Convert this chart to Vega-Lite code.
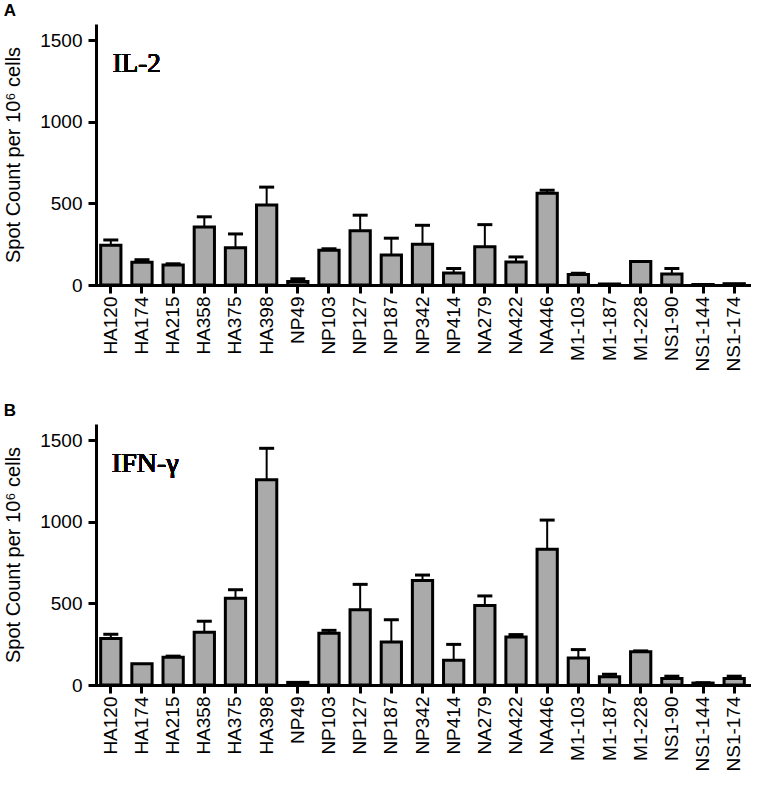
{
  "$schema": "https://vega.github.io/schema/vega-lite/v6.json",
  "padding": {"top": 2, "left": 3, "right": 3, "bottom": 0},
  "background": "white",
  "datasets": {
    "il2": [
      {"peptide": "HA120", "value": 244, "upper": 276},
      {"peptide": "HA174", "value": 139, "upper": 155},
      {"peptide": "HA215", "value": 123, "upper": 130},
      {"peptide": "HA358", "value": 356, "upper": 418},
      {"peptide": "HA375", "value": 228, "upper": 313},
      {"peptide": "HA398", "value": 491, "upper": 600},
      {"peptide": "NP49", "value": 22, "upper": 38},
      {"peptide": "NP103", "value": 213, "upper": 222},
      {"peptide": "NP127", "value": 332, "upper": 428},
      {"peptide": "NP187", "value": 184, "upper": 287},
      {"peptide": "NP342", "value": 250, "upper": 366},
      {"peptide": "NP414", "value": 74, "upper": 101},
      {"peptide": "NA279", "value": 235, "upper": 370},
      {"peptide": "NA422", "value": 141, "upper": 172},
      {"peptide": "NA446", "value": 562, "upper": 581},
      {"peptide": "M1-103", "value": 64, "upper": 72},
      {"peptide": "M1-187", "value": 6, "upper": 6},
      {"peptide": "M1-228", "value": 144, "upper": 144},
      {"peptide": "NS1-90", "value": 68, "upper": 101},
      {"peptide": "NS1-144", "value": 3, "upper": 3},
      {"peptide": "NS1-174", "value": 8, "upper": 8}
    ],
    "ifng": [
      {"peptide": "HA120", "value": 285, "upper": 311},
      {"peptide": "HA174", "value": 131, "upper": 131},
      {"peptide": "HA215", "value": 170, "upper": 177},
      {"peptide": "HA358", "value": 323, "upper": 391},
      {"peptide": "HA375", "value": 532, "upper": 584},
      {"peptide": "HA398", "value": 1259, "upper": 1451},
      {"peptide": "NP49", "value": 16, "upper": 16},
      {"peptide": "NP103", "value": 317, "upper": 335},
      {"peptide": "NP127", "value": 461, "upper": 617},
      {"peptide": "NP187", "value": 264, "upper": 400},
      {"peptide": "NP342", "value": 641, "upper": 674},
      {"peptide": "NP414", "value": 151, "upper": 249},
      {"peptide": "NA279", "value": 488, "upper": 546},
      {"peptide": "NA422", "value": 294, "upper": 309},
      {"peptide": "NA446", "value": 832, "upper": 1011},
      {"peptide": "M1-103", "value": 166, "upper": 217},
      {"peptide": "M1-187", "value": 51, "upper": 66},
      {"peptide": "M1-228", "value": 204, "upper": 209},
      {"peptide": "NS1-90", "value": 40, "upper": 54},
      {"peptide": "NS1-144", "value": 12, "upper": 14},
      {"peptide": "NS1-174", "value": 40, "upper": 54}
    ]
  },
  "vconcat": [
    {
      "title": {"text": "A"},
      "data": {"name": "il2"},
      "width": 653,
      "height": 261,
      "layer": [
        {
          "mark": {"type": "bar", "fill": "#aaaaaa", "stroke": "black", "strokeWidth": 3},
          "encoding": {
            "x": {"field": "peptide", "type": "nominal", "sort": null, "title": null,
                  "scale": {"paddingInner": 0.35, "paddingOuter": 0.15}},
            "y": {"field": "value", "type": "quantitative", "title": "Spot Count per 10⁶ cells",
                  "scale": {"domain": [0, 1500]}, "axis": {"values": [0, 500, 1000, 1500], "format": "d"}}
          }
        },
        {
          "transform": [{"filter": "datum.upper > datum.value"}],
          "mark": {"type": "rule", "color": "black", "strokeWidth": 2},
          "encoding": {
            "x": {"field": "peptide", "type": "nominal", "sort": null},
            "y": {"field": "value", "type": "quantitative"},
            "y2": {"field": "upper"}
          }
        },
        {
          "transform": [{"filter": "datum.upper > datum.value"}],
          "mark": {"type": "tick", "color": "black", "size": 15, "thickness": 3, "opacity": 1},
          "encoding": {
            "x": {"field": "peptide", "type": "nominal", "sort": null},
            "y": {"field": "upper", "type": "quantitative"}
          }
        },
        {
          "mark": {"type": "text", "text": "IL-2", "font": "Liberation Serif", "fontSize": 27,
                   "fontWeight": "normal", "align": "left", "baseline": "alphabetic", "dx": 2, "color": "black"},
          "encoding": {
            "x": {"datum": "HA120"},
            "y": {"datum": 1305}
          }
        }
      ]
    },
    {
      "title": {"text": "B"},
      "data": {"name": "ifng"},
      "width": 653,
      "height": 261,
      "layer": [
        {
          "mark": {"type": "bar", "fill": "#aaaaaa", "stroke": "black", "strokeWidth": 3},
          "encoding": {
            "x": {"field": "peptide", "type": "nominal", "sort": null, "title": null,
                  "scale": {"paddingInner": 0.35, "paddingOuter": 0.15}},
            "y": {"field": "value", "type": "quantitative", "title": "Spot Count per 10⁶ cells",
                  "scale": {"domain": [0, 1500]}, "axis": {"values": [0, 500, 1000, 1500], "format": "d"}}
          }
        },
        {
          "transform": [{"filter": "datum.upper > datum.value"}],
          "mark": {"type": "rule", "color": "black", "strokeWidth": 2},
          "encoding": {
            "x": {"field": "peptide", "type": "nominal", "sort": null},
            "y": {"field": "value", "type": "quantitative"},
            "y2": {"field": "upper"}
          }
        },
        {
          "transform": [{"filter": "datum.upper > datum.value"}],
          "mark": {"type": "tick", "color": "black", "size": 15, "thickness": 3, "opacity": 1},
          "encoding": {
            "x": {"field": "peptide", "type": "nominal", "sort": null},
            "y": {"field": "upper", "type": "quantitative"}
          }
        },
        {
          "mark": {"type": "text", "text": "IFN-γ", "font": "Liberation Serif", "fontSize": 28,
                   "fontWeight": "normal", "align": "left", "baseline": "alphabetic", "dx": 1, "color": "black"},
          "encoding": {
            "x": {"datum": "HA120"},
            "y": {"datum": 1305}
          }
        }
      ]
    }
  ],
  "spacing": 31,
  "config": {
    "font": "Liberation Sans",
    "view": {"stroke": null},
    "title": {"anchor": "start", "frame": "bounds", "fontSize": 17, "fontWeight": "bold",
              "font": "Liberation Sans", "color": "black", "offset": 0},
    "axis": {
      "grid": false,
      "domainColor": "black",
      "domainWidth": 3,
      "tickColor": "black",
      "tickWidth": 3,
      "tickSize": 8,
      "labelColor": "black",
      "labelFont": "Liberation Sans",
      "labelFontSize": 19,
      "titleFont": "Liberation Sans",
      "titleFontSize": 20,
      "titleFontWeight": "normal",
      "titleColor": "black",
      "zindex": 1
    },
    "axisX": {"labelAngle": -90, "labelPadding": 3, "domainCap": "square"},
    "axisY": {"labelPadding": 6, "titlePadding": 16, "labelFlush": false}
  }
}
